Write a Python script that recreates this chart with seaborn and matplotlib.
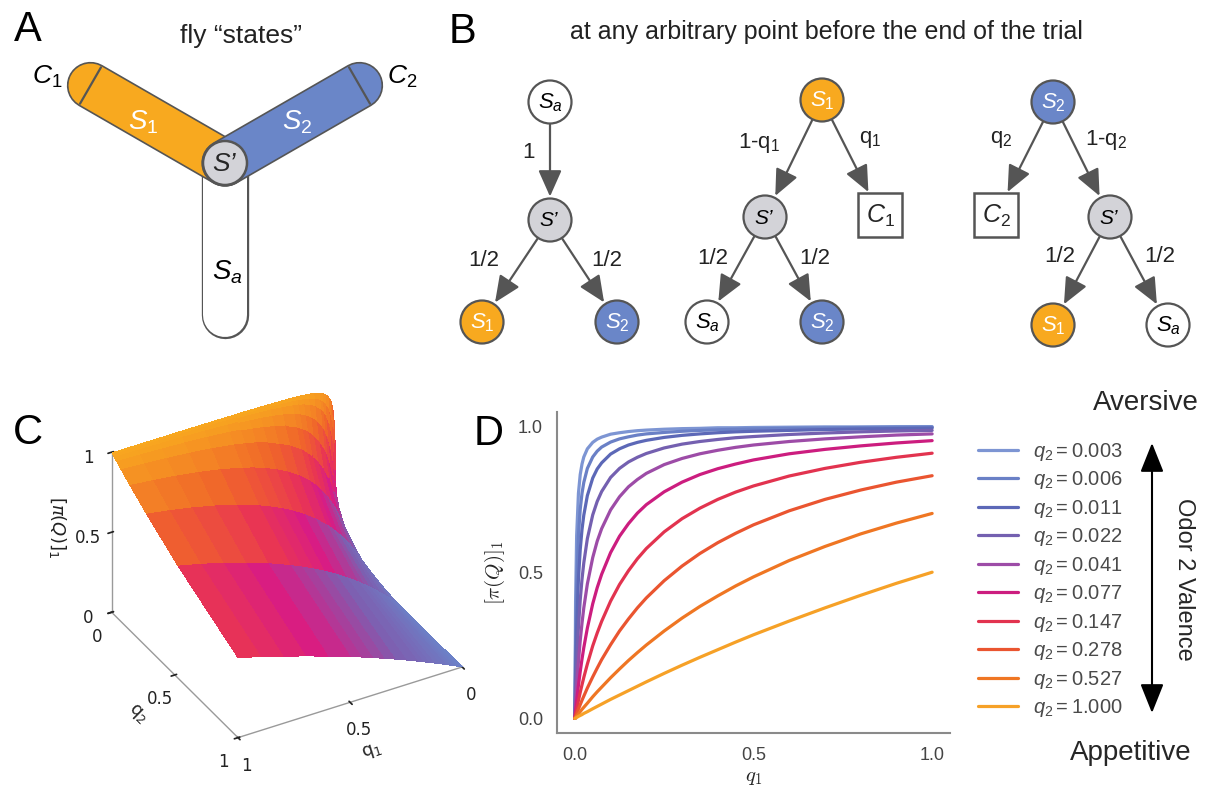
import numpy as np
import pandas as pd
import matplotlib
matplotlib.use("Agg")
import matplotlib.pyplot as plt
import matplotlib.patheffects as pe
from matplotlib.patches import Circle, Rectangle
from matplotlib.colors import LinearSegmentedColormap
import seaborn as sns

sns.set_theme(style="white")
plt.rcParams["font.family"] = ["Liberation Sans", "DejaVu Sans"]
plt.rcParams["mathtext.fontset"] = "custom"
plt.rcParams["mathtext.rm"] = "Liberation Sans"
plt.rcParams["mathtext.it"] = "Liberation Sans:italic"
plt.rcParams["mathtext.bf"] = "Liberation Sans:bold"

# ---------------------------------------------------------------- data
q1_grid = [0, 0.002, 0.005, 0.01, 0.015, 0.02, 0.025, 0.035, 0.05, 0.0625,
           0.075, 0.1, 0.125, 0.15, 0.175, 0.2, 0.25, 0.3, 0.35, 0.4,
           0.45, 0.5, 0.6, 0.7, 0.8, 0.9, 1.0]
q2_values = [0.003, 0.006, 0.011, 0.022, 0.041, 0.077, 0.147, 0.278, 0.527, 1.0]
q2_labels = ["0.003", "0.006", "0.011", "0.022", "0.041",
             "0.077", "0.147", "0.278", "0.527", "1.000"]

# [pi(Q)]_1 along q1_grid, one list per q2
pi_q2_0003 = [0, 0.400, 0.625, 0.770, 0.834, 0.870, 0.894, 0.922, 0.944, 0.955,
              0.962, 0.972, 0.977, 0.981, 0.984, 0.986, 0.989, 0.991, 0.992, 0.994,
              0.994, 0.995, 0.996, 0.997, 0.997, 0.998, 0.998]
pi_q2_0006 = [0, 0.250, 0.454, 0.625, 0.715, 0.770, 0.807, 0.855, 0.894, 0.914,
              0.928, 0.945, 0.956, 0.963, 0.969, 0.973, 0.978, 0.982, 0.985, 0.987,
              0.989, 0.990, 0.992, 0.993, 0.995, 0.995, 0.996]
pi_q2_0011 = [0, 0.153, 0.312, 0.476, 0.577, 0.646, 0.695, 0.762, 0.822, 0.853,
              0.874, 0.904, 0.922, 0.935, 0.944, 0.951, 0.961, 0.968, 0.973, 0.977,
              0.980, 0.982, 0.985, 0.988, 0.990, 0.991, 0.993]
pi_q2_0022 = [0, 0.083, 0.184, 0.312, 0.405, 0.476, 0.532, 0.615, 0.696, 0.742,
              0.776, 0.824, 0.855, 0.877, 0.893, 0.906, 0.925, 0.938, 0.947, 0.954,
              0.960, 0.964, 0.971, 0.976, 0.980, 0.983, 0.985]
pi_q2_0041 = [0, 0.046, 0.108, 0.194, 0.266, 0.326, 0.378, 0.460, 0.550, 0.606,
              0.649, 0.713, 0.758, 0.792, 0.817, 0.838, 0.868, 0.889, 0.905, 0.917,
              0.927, 0.935, 0.947, 0.956, 0.963, 0.969, 0.973]
pi_q2_0077 = [0, 0.025, 0.060, 0.113, 0.160, 0.203, 0.242, 0.309, 0.392, 0.447,
              0.493, 0.567, 0.623, 0.666, 0.702, 0.731, 0.775, 0.808, 0.834, 0.854,
              0.870, 0.884, 0.905, 0.920, 0.932, 0.942, 0.950]
pi_q2_0147 = [0, 0.013, 0.031, 0.061, 0.089, 0.115, 0.140, 0.186, 0.248, 0.292,
              0.332, 0.401, 0.458, 0.505, 0.546, 0.581, 0.638, 0.683, 0.719, 0.749,
              0.774, 0.795, 0.829, 0.855, 0.876, 0.893, 0.907]
pi_q2_0278 = [0, 0.006, 0.016, 0.032, 0.047, 0.062, 0.076, 0.104, 0.142, 0.172,
              0.201, 0.252, 0.299, 0.340, 0.378, 0.412, 0.471, 0.521, 0.564, 0.601,
              0.633, 0.662, 0.710, 0.749, 0.781, 0.808, 0.830]
pi_q2_0527 = [0, 0.003, 0.008, 0.015, 0.023, 0.031, 0.038, 0.052, 0.074, 0.091,
              0.107, 0.139, 0.169, 0.198, 0.225, 0.251, 0.299, 0.343, 0.383, 0.419,
              0.453, 0.484, 0.540, 0.588, 0.631, 0.668, 0.701]
pi_q2_1000 = [0, 0.001, 0.003, 0.007, 0.010, 0.013, 0.017, 0.023, 0.033, 0.041,
              0.049, 0.065, 0.080, 0.095, 0.110, 0.125, 0.154, 0.182, 0.209, 0.235,
              0.261, 0.286, 0.333, 0.378, 0.421, 0.462, 0.500]
pi_rows = [pi_q2_0003, pi_q2_0006, pi_q2_0011, pi_q2_0022, pi_q2_0041,
           pi_q2_0077, pi_q2_0147, pi_q2_0278, pi_q2_0527, pi_q2_1000]

# ---------------------------------------------------------------- styles
ORANGE = "#F8A91F"
BLUE = "#6A86C8"
GREY_NODE = "#D3D3D8"
EDGE = "#555555"
line_colors = ["#7d95d3", "#6a80c6", "#5c68b7", "#7460b0", "#9d4ca7",
               "#cc1d7f", "#e2334f", "#ea5530", "#ef7623", "#f6a127"]
surface_cmap = LinearSegmentedColormap.from_list(
    "valence", [(0.0, "#6b82c8"), (0.25, "#7d5fb0"), (0.45, "#d81c84"),
                (0.6, "#e93553"), (0.78, "#f0652a"), (1.0, "#f8a91f")])

W, H = 1214, 792
fig = plt.figure(figsize=(W / 100, H / 100), dpi=100)


def fig_rect(left, top, right, bottom):
    return [left / W, 1 - bottom / H, (right - left) / W, (bottom - top) / H]


# ---------------------------------------------------------------- panel C
ax_c = fig.add_axes(fig_rect(72, 365, 491, 765), projection="3d")
X, Y = np.meshgrid(q1_grid, q2_values)
Z = np.array(pi_rows)
ax_c.plot_surface(X, Y, Z, cmap=surface_cmap, vmin=0, vmax=1, rstride=1,
                  cstride=1, linewidth=0, antialiased=False, shade=False)
ax_c.set_proj_type("ortho")
ax_c.view_init(elev=34, azim=60.6)
ax_c.set_xlim(0, 1)
ax_c.set_ylim(0, 1)
ax_c.set_zlim(0, 1)
ax_c.grid(False)
for axis in (ax_c.xaxis, ax_c.yaxis, ax_c.zaxis):
    axis.pane.fill = False
    axis.pane.set_edgecolor((1, 1, 1, 0))
    axis.line.set_color("#9a9a9a")
    axis.line.set_linewidth(1.0)
ax_c.set_facecolor((1, 1, 1, 0))
ticks3 = [0, 0.5, 1]
tick_text3 = ["0", "0.5", "1"]
ax_c.set_xticks(ticks3, tick_text3, fontfamily="DejaVu Sans", fontsize=12)
ax_c.set_yticks(ticks3, tick_text3, fontfamily="DejaVu Sans", fontsize=12)
ax_c.set_zticks(ticks3, tick_text3, fontfamily="DejaVu Sans", fontsize=12)
ax_c.tick_params(colors="#222222", pad=2)
ax_c.set_xlabel(r"$\mathrm{q}_1$", fontsize=13, math_fontfamily="dejavusans", labelpad=5)
ax_c.set_ylabel(r"$\mathrm{q}_2$", fontsize=13, math_fontfamily="dejavusans", labelpad=4)

# ---------------------------------------------------------------- panel D
ax_d = fig.add_axes(fig_rect(557, 412, 950, 733))
records = []
for lab, row in zip(q2_labels, pi_rows):
    for x, y in zip(q1_grid, row):
        records.append({"q1": x, "pi": y, "q2": lab})
df = pd.DataFrame(records)
sns.lineplot(data=df, x="q1", y="pi", hue="q2", hue_order=q2_labels,
             palette=line_colors, linewidth=2.3, estimator=None, sort=False,
             solid_joinstyle="round", ax=ax_d)
handles, _ = ax_d.get_legend_handles_labels()
ax_d.get_legend().remove()
sns.despine(ax=ax_d)
for s in ("left", "bottom"):
    ax_d.spines[s].set_color("#8a8a8a")
    ax_d.spines[s].set_linewidth(1.5)
ax_d.set_xticks([0, 0.5, 1.0], ["0.0", "0.5", "1.0"])
ax_d.set_yticks([0, 0.5, 1.0], ["0.0", "0.5", "1.0"])
ax_d.tick_params(labelsize=13, labelcolor="#444444", pad=10, length=0)
ax_d.set_xlabel(r"$q_1$", fontsize=15, math_fontfamily="cm", labelpad=3)
ax_d.set_ylabel(r"$[\pi(Q)]_1$", fontsize=15, math_fontfamily="cm", labelpad=8)

fig.legend(handles, [rf"$q_2 = {v}$" for v in q2_labels],
           loc="upper left", bbox_to_anchor=(978 / W, 1 - 441 / H),
           frameon=False, fontsize=14.5, labelcolor="#4a4a4a",
           handlelength=2.0, handletextpad=0.72, labelspacing=0.32,
           borderpad=0, borderaxespad=0)

# ---------------------------------------------------------------- overlay (pixel space)
ov = fig.add_axes([0, 0, 1, 1])
ov.set_xlim(0, W)
ov.set_ylim(H, 0)
ov.axis("off")
ov.set_zorder(10)

PX = 0.72  # points per pixel at 100 dpi

# vertical label of the 3D surface
ov.text(57, 527, r"$[\pi(Q)]_1$", fontsize=13, math_fontfamily="dejavusans",
        rotation=-90, ha="center", va="center", color="#222222")

# panel letters
for letter, (x, y) in {"A": (28, 30), "B": (463, 32), "C": (28, 433), "D": (489, 434)}.items():
    ov.text(x, y, letter, fontsize=30, ha="center", va="center", color="black")

# ---- panel A: Y-maze
ov.text(241, 36, "fly \u201cstates\u201d", fontsize=19, ha="center", va="center", color="#222222")
center = np.array([225.0, 163.0])
tube_w = 44


def tube(end, fill):
    lw = tube_w * PX
    ov.plot([center[0], end[0]], [center[1], end[1]], color=fill, lw=lw,
            solid_capstyle="round", zorder=2,
            path_effects=[pe.Stroke(linewidth=lw + 2.4, foreground=EDGE), pe.Normal()])


end_a = np.array([225.0, 315.0])
end_1 = np.array([90.5, 85.5])
end_2 = np.array([359.5, 85.5])
tube(end_a, "white")
tube(end_1, ORANGE)
tube(end_2, BLUE)
for end in (end_1, end_2):
    d = (end - center) / np.linalg.norm(end - center)
    perp = np.array([-d[1], d[0]])
    a, b = end + perp * (tube_w / 2 - 1), end - perp * (tube_w / 2 - 1)
    ov.plot([a[0], b[0]], [a[1], b[1]], color=EDGE, lw=1.6, zorder=3)
ov.add_patch(Circle(center, 22, facecolor=GREY_NODE, edgecolor=EDGE, lw=1.8, zorder=4))
ov.text(center[0] - 1, center[1] + 1, "S\u2019", fontsize=19, style="italic", ha="center", va="center", zorder=5)
ov.text(143, 122, r"$S_1$", fontsize=20, color="white", ha="center", va="center", zorder=5)
ov.text(297, 122, r"$S_2$", fontsize=20, color="white", ha="center", va="center", zorder=5)
ov.text(227, 272, r"$S_a$", fontsize=20, color="black", ha="center", va="center", zorder=5)
ov.text(47, 77, r"$C_1$", fontsize=19, color="black", ha="center", va="center")
ov.text(402, 77, r"$C_2$", fontsize=19, color="black", ha="center", va="center")

# ---- panel B: transition trees
ov.text(826, 32, "at any arbitrary point before the end of the trial",
        fontsize=18, ha="center", va="center", color="#222222")
R = 21.5
node_style = {
    "a": ("white", "black", r"$S_a$"),
    "1": (ORANGE, "white", r"$S_1$"),
    "2": (BLUE, "white", r"$S_2$"),
    "p": (GREY_NODE, "black", "S\u2019"),
}


def node(x, y, kind):
    fc, tc, label = node_style[kind]
    ov.add_patch(Circle((x, y), R, facecolor=fc, edgecolor=EDGE, lw=1.6, zorder=4))
    if kind == "p":
        ov.text(x - 1, y + 1, label, fontsize=15, style="italic", color=tc,
                ha="center", va="center", zorder=5)
    else:
        ov.text(x, y + 1, label, fontsize=16, color=tc, ha="center", va="center", zorder=5)


def box(x, y, label):
    ov.add_patch(Rectangle((x - 22, y - 22), 44, 44, facecolor="white",
                           edgecolor=EDGE, lw=1.8, zorder=4))
    ov.text(x, y + 1, label, fontsize=18, ha="center", va="center", zorder=5)


def arrow(p, q, q_is_box=False):
    p = np.array(p, float)
    q = np.array(q, float)
    u = (q - p) / np.linalg.norm(q - p)
    start = p + u * (R + 1)
    if q_is_box:
        end = q - u * (23 / max(abs(u[0]), abs(u[1])))
    else:
        end = q - u * (R + 2)
    ov.annotate("", xy=end, xytext=start,
                arrowprops=dict(arrowstyle="-|>,head_length=0.9,head_width=0.4",
                                color=EDGE, lw=1.6, mutation_scale=18,
                                shrinkA=0, shrinkB=0),
                zorder=3)


def label(x, y, s, size=16):
    ov.text(x, y, s, fontsize=size, ha="center", va="center", color="#222222")


# tree 1
arrow((550, 102), (550, 220))
arrow((550, 220), (482, 322))
arrow((550, 220), (617, 322))
node(550, 102, "a")
node(550, 220, "p")
node(482, 322, "1")
node(617, 322, "2")
label(528, 152, "1")
label(484, 260, "1/2")
label(607, 260, "1/2")

# tree 2
arrow((822, 100), (765, 217))
arrow((822, 100), (880, 215), q_is_box=True)
arrow((765, 217), (707, 322))
arrow((765, 217), (822, 322))
node(822, 100, "1")
node(765, 217, "p")
box(880, 215, r"$C_1$")
node(707, 322, "a")
node(822, 322, "2")
label(759, 143, r"1-q$_1$")
label(870, 140, r"q$_1$")
label(713, 258, "1/2")
label(815, 258, "1/2")

# tree 3
arrow((1053, 102), (996, 215), q_is_box=True)
arrow((1053, 102), (1110, 217))
arrow((1110, 217), (1053, 325))
arrow((1110, 217), (1168, 325))
node(1053, 102, "2")
node(1110, 217, "p")
box(996, 215, r"$C_2$")
node(1053, 325, "1")
node(1168, 325, "a")
label(1001, 140, r"q$_2$")
label(1106, 140, r"1-q$_2$")
label(1060, 257, "1/2")
label(1160, 257, "1/2")

# ---- valence scale next to panel D
ov.annotate("", xy=(1152, 713), xytext=(1152, 443),
            arrowprops=dict(arrowstyle="<|-|>,head_length=0.75,head_width=0.3",
                            color="black", lw=1.5, mutation_scale=24,
                            shrinkA=0, shrinkB=0))
ov.text(1184, 579, "Odor 2 Valence", fontsize=17, rotation=-90, ha="center", va="center")
ov.text(1093, 403, "Aversive", fontsize=20, ha="left", va="center")
ov.text(1131, 753, "Appetitive", fontsize=20, ha="center", va="center")

fig.savefig("out.png", dpi=100)
